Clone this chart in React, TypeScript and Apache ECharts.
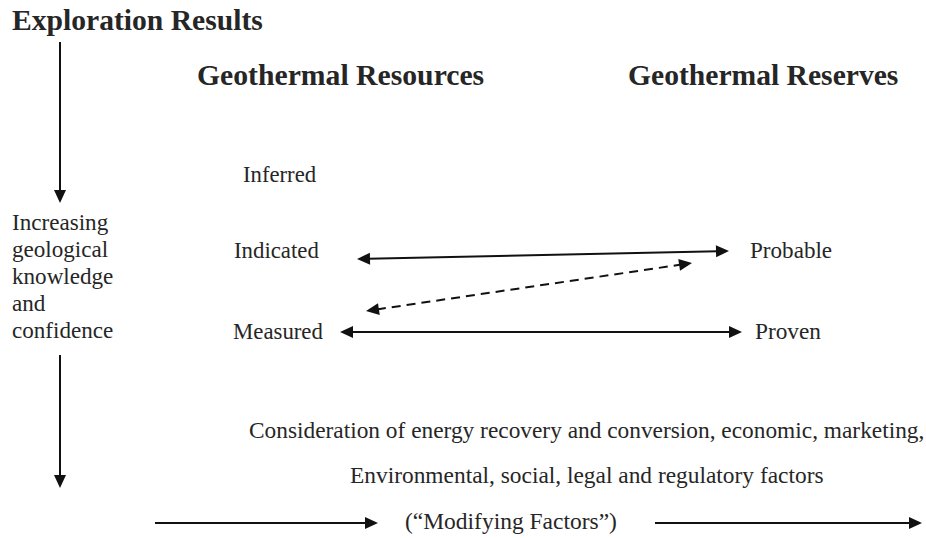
import React, { useEffect, useRef } from "react";
import * as echarts from "echarts";

// ---- content ----
const titleText = "Exploration Results";
const columnHeaders = ["Geothermal Resources", "Geothermal Reserves"];
const resourceCategories = ["Inferred", "Indicated", "Measured"];
const reserveCategories = ["Probable", "Proven"];
const confidenceLines = ["Increasing", "geological", "knowledge", "and", "confidence"];
const modifyingLines = [
  "Consideration of energy recovery and conversion, economic, marketing,",
  "Environmental, social, legal and regulatory factors",
];
const modifyingLabel = "(\u201CModifying Factors\u201D)";
// links between resource and reserve categories: [resource, reserve, dashed]
const links: [string, string, boolean][] = [
  ["Indicated", "Probable", false],
  ["Measured", "Probable", true],
  ["Measured", "Proven", false],
];

// ---- layout (pixels) ----
const FONT = '"Liberation Serif", "Times New Roman", serif';
const COLOR = "#262626";
const titleBox = { x: 12, y: 20, w: 251 };
const headerBoxes = [
  { x: 197, y: 75, w: 287 },
  { x: 628, y: 75, w: 270 },
];
const resourceBoxes: Record<string, { x: number; y: number; w: number }> = {
  Inferred: { x: 243, y: 174, w: 73 },
  Indicated: { x: 234, y: 250, w: 85 },
  Measured: { x: 233, y: 331, w: 90 },
};
const reserveBoxes: Record<string, { x: number; y: number; w: number }> = {
  Probable: { x: 750, y: 250, w: 82 },
  Proven: { x: 755, y: 331, w: 66 },
};
const linkEnds: Record<string, [number, number, number, number]> = {
  "Indicated-Probable": [357, 259, 729, 251],
  "Measured-Probable": [366, 311, 692, 263],
  "Measured-Proven": [340, 332, 742, 332],
};
const confidenceBox = { x: 12, y: 222, lineH: 27, w: 96 };
const modifyingBoxes = [
  { x: 249, y: 430, w: 676, size: 23 },
  { x: 350, y: 475, w: 474, size: 23 },
];
const modifyingLabelBox = { x: 405, y: 521, w: 212, size: 23 };

function measure(text: string, weight: string): number {
  const c = document.createElement("canvas");
  const ctx = c.getContext("2d")!;
  ctx.font = `${weight} 100px ${FONT}`;
  return ctx.measureText(text).width;
}
function fit(text: string, weight: string, w: number): number {
  return Math.round(((100 * w) / measure(text, weight)) * 10) / 10;
}

function textEl(text: string, x: number, y: number, size: number, weight = "normal", scaleX = 1) {
  return {
    type: "text",
    x,
    y,
    scaleX,
    style: {
      text,
      fontSize: size,
      fontFamily: FONT,
      fontWeight: weight,
      fill: COLOR,
      align: "left",
      verticalAlign: "middle",
    },
  };
}
function condensedText(text: string, x: number, y: number, size: number, w: number) {
  const natural = (measure(text, "normal") * size) / 100;
  return textEl(text, x, y, size, "normal", w / natural);
}

function head(tx: number, ty: number, fx: number, fy: number, len = 13, half = 6) {
  const dx = tx - fx;
  const dy = ty - fy;
  const d = Math.hypot(dx, dy);
  const ux = dx / d;
  const uy = dy / d;
  const bx = tx - ux * len;
  const by = ty - uy * len;
  return {
    type: "polygon",
    shape: {
      points: [
        [tx, ty],
        [bx - uy * half, by + ux * half],
        [bx + uy * half, by - ux * half],
      ],
    },
    style: { fill: "#111" },
  };
}

function arrow(x1: number, y1: number, x2: number, y2: number, both: boolean, dashed = false) {
  const els: any[] = [];
  const dx = x2 - x1;
  const dy = y2 - y1;
  const d = Math.hypot(dx, dy);
  const ux = dx / d;
  const uy = dy / d;
  const L = 11;
  const sx = both ? x1 + ux * L : x1;
  const sy = both ? y1 + uy * L : y1;
  els.push({
    type: "line",
    shape: { x1: sx, y1: sy, x2: x2 - ux * L, y2: y2 - uy * L },
    style: { stroke: "#111", lineWidth: 2, lineDash: dashed ? [9, 6] : undefined },
  });
  els.push(head(x2, y2, x1, y1));
  if (both) els.push(head(x1, y1, x2, y2));
  return els;
}

export default function App() {
  const ref = useRef<HTMLDivElement>(null);
  useEffect(() => {
    document.body.style.margin = "0";
    const chart = echarts.init(ref.current!, null, { renderer: "svg" });
    const els: any[] = [];
    els.push(textEl(titleText, titleBox.x, titleBox.y, fit(titleText, "bold", titleBox.w), "bold"));
    columnHeaders.forEach((h, i) => {
      const b = headerBoxes[i];
      els.push(textEl(h, b.x, b.y, fit(h, "bold", b.w), "bold"));
    });
    resourceCategories.forEach((r) => {
      const b = resourceBoxes[r];
      els.push(textEl(r, b.x, b.y, fit(r, "normal", b.w)));
    });
    reserveCategories.forEach((r) => {
      const b = reserveBoxes[r];
      els.push(textEl(r, b.x, b.y, fit(r, "normal", b.w)));
    });
    const confSize = fit(confidenceLines[0], "normal", confidenceBox.w);
    confidenceLines.forEach((t, i) => {
      els.push(textEl(t, confidenceBox.x, confidenceBox.y + i * confidenceBox.lineH, confSize));
    });
    modifyingLines.forEach((t, i) => {
      const b = modifyingBoxes[i];
      els.push(condensedText(t, b.x, b.y, b.size, b.w));
    });
    els.push(
      condensedText(modifyingLabel, modifyingLabelBox.x, modifyingLabelBox.y, modifyingLabelBox.size, modifyingLabelBox.w)
    );
    links.forEach(([a, b, dashed]) => {
      const e = linkEnds[`${a}-${b}`];
      els.push(...arrow(e[0], e[1], e[2], e[3], true, dashed));
    });
    // vertical confidence arrows
    els.push(...arrow(60, 42, 60, 203, false));
    els.push(...arrow(60, 355, 60, 488, false));
    // modifying factors arrows
    els.push(...arrow(155, 523, 378, 523, false));
    els.push(...arrow(655, 523, 922, 523, false));

    chart.setOption({
      animation: false,
      backgroundColor: "#ffffff",
      graphic: { elements: els },
    });
    return () => chart.dispose();
  }, []);
  return <div ref={ref} style={{ width: 926, height: 538 }} />;
}
